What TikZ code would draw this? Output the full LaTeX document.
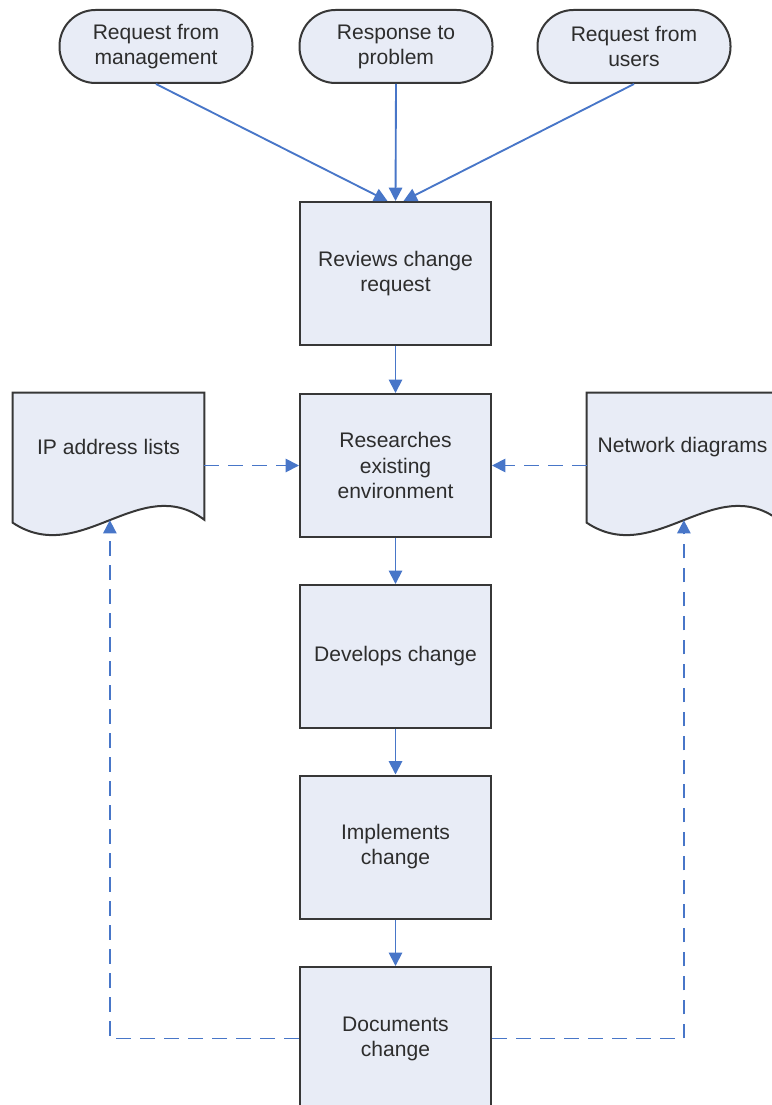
\documentclass[tikz,border=0pt]{standalone}
\usepackage{fontspec}
\setmainfont{Liberation Sans}
\usetikzlibrary{arrows.meta,calc,backgrounds}
\definecolor{boxfill}{RGB}{232,236,246}
\definecolor{boxline}{RGB}{55,55,55}
\definecolor{flow}{RGB}{72,118,200}
\definecolor{ink}{RGB}{45,45,45}

\begin{document}
\begin{tikzpicture}[x=0.75pt,y=-0.75pt,
  every node/.append style={font=\fontsize{15.8}{18.8}\selectfont, text=ink, align=center},
  stepbox/.style={draw=boxline, fill=boxfill, line width=1.5pt,
    minimum width=143.25pt, minimum height=107.25pt, inner sep=0pt},
  terminal/.style={draw=boxline, fill=boxfill, line width=1.5pt, rounded corners=27pt,
    minimum width=144.75pt, minimum height=54.75pt, inner sep=0pt},
  docarea/.style={minimum width=143.25pt, minimum height=81pt, inner sep=0pt},
  docshape/.style={draw=boxline, fill=boxfill, line width=1.5pt},
  flowarrow/.style={draw=flow, line width=1.4pt, -{Triangle[length=10pt,width=10pt]}},
  infoarrow/.style={flowarrow, dash pattern=on 11pt off 7pt}
]
\useasboundingbox (0,0) rectangle (771,1105);

% sources of change requests
\node[terminal] (t1) at (156,46.5) {Request from\\management};
\node[terminal] (t2) at (396,46.5) {Response to\\problem};
\node[terminal] (t3) at (634,46.5) {Request from\\users};

% main process steps
\node[stepbox] (b1) at (395.5,273.5) {Reviews change\\request};
\node[stepbox] (b2) at (395.5,465.5) {Researches\\existing\\environment};
\node[stepbox] (b3) at (395.5,656.5) {Develops change};
\node[stepbox] (b4) at (395.5,847) {Implements\\change};
\node[stepbox] (b5) at (395.5,1038.5) {Documents\\change};

% reference documents
\node[docarea] (ip) at (108.5,447) {IP address lists};
\node[docarea] (net) at (682.5,447) {Network diagrams};

\begin{scope}[on background layer]
  \foreach \d in {ip,net} {
    \path[docshape] (\d.north west) -- (\d.north east)
      -- ($(\d.north east)+(0,127)$)
      .. controls ($(\d.north east)+(-64,79)$) and ($(\d.north east)+(-124,175)$)
      .. ($(\d.north west)+(0,130)$) -- cycle;
    \coordinate (\d w) at ($(\d.north east)+(-94.4,127.4)$);
  }
\end{scope}

% flow of the request
\draw[flowarrow] (t1.south) -- ($(b1.north)+(-8,0)$);
\draw[flowarrow] (t2.south) -- (b1.north);
\draw[flowarrow] (t3.south) -- ($(b1.north)+(8,0)$);
\draw[flowarrow] (b1) -- (b2);
\draw[flowarrow] (b2) -- (b3);
\draw[flowarrow] (b3) -- (b4);
\draw[flowarrow] (b4) -- (b5);

% documentation used and updated
\draw[infoarrow] (ip.east |- b2.west) -- (b2.west);
\draw[infoarrow] (net.west |- b2.east) -- (b2.east);
\draw[infoarrow] (b5.west) -| (ipw);
\draw[infoarrow] (b5.east) -| (netw);
\end{tikzpicture}
\end{document}
